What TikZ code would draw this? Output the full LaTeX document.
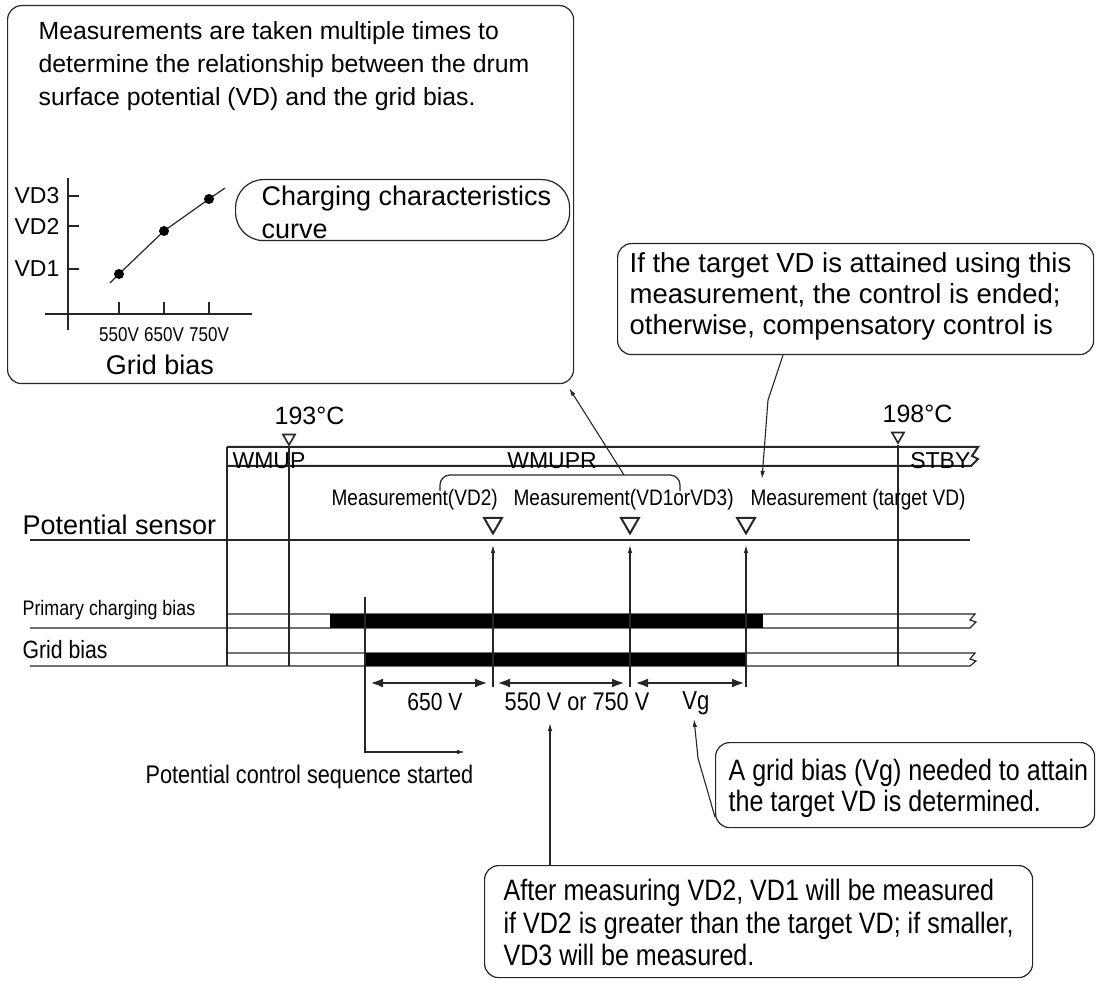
\documentclass[tikz,border=0pt]{standalone}
\usepackage{fontspec}
\setmainfont{Liberation Sans}
\newfontfamily\narrowfont[FakeStretch=0.85]{Liberation Sans}
\usetikzlibrary{arrows.meta,shapes.geometric}

\begin{document}
\begin{tikzpicture}[
  x=1pt, y=-1pt,
  line width=1.2pt, draw=black!85,
  rm/.style 2 args={font=\fontsize{#1}{#2}\selectfont, inner sep=0pt},
  nw/.style 2 args={font=\narrowfont\fontsize{#1}{#2}\selectfont, inner sep=0pt},
  callbox/.style={draw=black!85, rounded corners=14pt, line width=1.2pt,
                  inner sep=0pt, anchor=north west},
  tmark/.style  ={regular polygon, regular polygon sides=3, shape border rotate=180,
                  draw, line width=1.6pt, minimum size=14pt, inner sep=0pt},
  smark/.style  ={regular polygon, regular polygon sides=3, shape border rotate=180,
                  draw, line width=2pt, minimum size=20.8pt, inner sep=0pt},
  arr/.style    ={-{Latex[length=8pt,width=4.5pt]}, line width=1.1pt},
  dim/.style    ={{Latex[length=13pt,width=9pt]}-{Latex[length=13pt,width=9pt]}, line width=2.6pt},
]
\useasboundingbox (0,0) rectangle (1101,981);

% ---------------- note box with charging curve ----------------
\node[callbox, minimum width=566pt, minimum height=378pt] (notebox) at (7,5) {};
\node[rm={24.8}{33}, align=left, anchor=north west] (notetxt) at (38,21)
  {Measurements are taken multiple times to\\determine the relationship between the drum\\surface potential (VD) and the grid bias.};

\draw (68,178) -- (68,330);
\draw (45,314) -- (252,314);
\foreach \yy/\vd in {196/VD3,226/VD2,269/VD1}{
  \draw (68,\yy) -- (79,\yy);
  \node[rm={23}{23}, anchor=east] (\vd) at (60,\yy) {\vd};
}
\foreach \xx/\gv in {119/550,164/650,209/750}{
  \draw (\xx,302) -- (\xx,314);
  \node[nw={20}{20}, anchor=base] (g\gv) at (\xx,342) {\gv V};
}
\draw (110,283) -- (119,274) -- (164,231) -- (209,199) -- (225,188);
\foreach \xx/\yy in {119/274,164/231,209/199} \fill (\xx,\yy) circle (5pt);
\node[rm={27}{27}, anchor=base] (gridaxis) at (160,375) {Grid bias};

\node[callbox, rounded corners=28pt, minimum width=334pt, minimum height=61pt] (curvebox) at (235,179) {};
\node[rm={27}{33}, align=left, anchor=north west] (curvetxt) at (261,185) {Charging characteristics\\curve};

% ---------------- note on the target measurement ----------------
\node[callbox, minimum width=476pt, minimum height=111pt] (endbox) at (617,243) {};
\node[rm={27.5}{31}, align=left, anchor=north west] (endtxt) at (629,252)
  {If the target VD is attained using this\\measurement, the control is ended;\\otherwise, compensatory control is};

% ---------------- mode band ----------------
\draw[line width=2pt] (227,447) -- (978,447) -- (972,456) -- (978,459) -- (971,466) -- (227,466);
\draw (227,447) -- (227,666);
\node[rm={23}{23}, anchor=base west] (wmup) at (232,468) {WMUP};
\node[rm={23}{23}, anchor=base] (wmupr) at (552,468) {WMUPR};
\node[rm={23}{23}, anchor=base east] (stby) at (971,468) {STBY};

\node[rm={25}{25}, anchor=base west] (t193) at (274,425) {193°C};
\node[tmark] (m193) at (289,438) {};
\node[rm={25}{25}, anchor=base west] (t198) at (882,423) {198°C};
\node[tmark] (m198) at (898,436) {};
\coordinate (e193) at (289,666);
\coordinate (e198) at (898,666);
\draw (m193.south) -- (e193);
\draw (m198.south) -- (e198);

% ---------------- potential sensor ----------------
\node[rm={27}{27}, anchor=base west] (sensor) at (22,534) {Potential sensor};
\draw (30,540) -- (970,540);

\node[nw={22.4}{22}, anchor=base west] (meas2) at (331,505) {Measurement(VD2)};
\node[nw={22.4}{22}, anchor=base west] (meas13) at (513,505) {Measurement(VD1orVD3)};
\node[nw={22.4}{22}, anchor=base west] (meastgt) at (750,505) {Measurement (target VD)};
\node[smark] (mk2) at (493,523) {};
\node[smark] (mk13) at (630,523) {};
\node[smark] (mktgt) at (746,523) {};

\draw[rounded corners=10pt] (440,491) -- (440,475) -- (680,475) -- (680,491);
\coordinate (brk) at (624,475);
\draw[arr] (brk) -- ([shift={(-5pt,-4pt)}]notebox.south east);

\coordinate (bend) at (768,400);
\coordinate (tgtpt) at (762,479);
\draw[arr] ([xshift=166pt]endbox.south west) -- (bend) -- (tgtpt);

% ---------------- bias rows ----------------
\node[nw={21}{21}, anchor=base west] (primary) at (22,615) {Primary charging bias};
\node[nw={25}{25}, anchor=base west] (gridlab) at (22,658) {Grid bias};
\draw (227,614) -- (975,614) -- (970,620) -- (976,622) -- (970,628) -- (30,628);
\draw (227,653) -- (975,653) -- (970,659) -- (976,661) -- (970,666) -- (30,666);
\fill (330,614) rectangle (763,628);
\fill (365,653) rectangle (747,666);

\foreach \xx/\nm in {493/a,630/b,746/c}{
  \coordinate (lo\nm) at (\xx,687);
  \coordinate (hi\nm) at (\xx,545);
  \draw[arr] (lo\nm) -- (hi\nm);
}

% control start
\coordinate (go) at (365,597);
\coordinate (gocorner) at (365,752);
\coordinate (goend) at (465,752);
\draw[arr] (go) -- (gocorner) -- (goend);
\node[nw={25.5}{25}, anchor=base west] (started) at (145,783) {Potential control sequence started};

% ---------------- grid bias steps ----------------
\coordinate (d1) at (370,683); \coordinate (d2) at (488,683);
\coordinate (d3) at (497,683); \coordinate (d4) at (625,683);
\coordinate (d5) at (635,683); \coordinate (d6) at (745,683);
\draw[dim] (d1) -- (d2);
\draw[dim] (d3) -- (d4);
\draw[dim] (d5) -- (d6);
\node[nw={24.8}{25}, anchor=base] (v650) at (435,710) {650 V};
\node[nw={25.5}{25}, anchor=base] (v550) at (577,710) {550 V or 750 V};
\node[nw={26}{26}, anchor=base] (vg) at (696,709) {Vg};

% ---------------- lower notes ----------------
\node[callbox, minimum width=379pt, minimum height=85pt] (vgbox) at (715,742) {};
\node[nw={29.5}{31}, align=left, anchor=north west] (vgtxt) at (728,759)
  {A grid bias (Vg) needed to attain\\the target VD is determined.};
\coordinate (vgbend) at (698,758);
\coordinate (vgtip) at (694,719);
\draw[arr] ([yshift=-32pt]vgbox.west) -- (vgbend) -- (vgtip);

\node[callbox, minimum width=548pt, minimum height=112pt] (afterbox) at (484,865) {};
\node[nw={29.5}{32.5}, align=left, anchor=north west] (aftertxt) at (503,879)
  {After measuring VD2, VD1 will be measured\\if VD2 is greater than the target VD; if smaller,\\VD3 will be measured.};
\coordinate (c550) at (550,723);
\draw[arr] ([xshift=66pt]afterbox.north west) -- (c550);

\end{tikzpicture}
\end{document}
